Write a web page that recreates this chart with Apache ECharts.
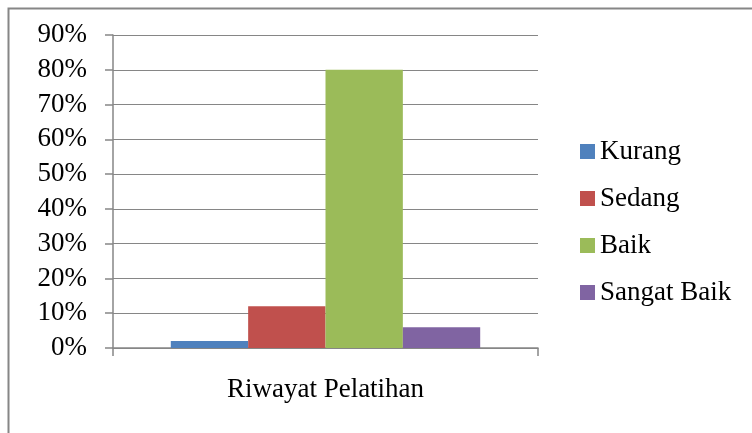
<!DOCTYPE html>
<html>
<head>
<meta charset="utf-8">
<script src="https://cdn.jsdelivr.net/npm/echarts@6/dist/echarts.min.js"></script>
<style>html,body{margin:0;padding:0;background:#fff}#c{width:752px;height:433px}</style>
</head>
<body>
<div id="c"></div>
<script>
var categories = ['Riwayat Pelatihan'];
var seriesNames = ['Kurang', 'Sedang', 'Baik', 'Sangat Baik'];
var kurang = [2];
var sedang = [12];
var baik = [80];
var sangatBaik = [6];
var colors = ['#4F81BD', '#C0504D', '#9BBB59', '#8064A2'];
var values = [kurang, sedang, baik, sangatBaik];
var font = '"Liberation Serif", "Times New Roman", serif';

var chart = echarts.init(document.getElementById('c'), null, {renderer: 'canvas'});
chart.setOption({
  animation: false,
  backgroundColor: '#fff',
  textStyle: {fontFamily: font},
  graphic: [{
    type: 'rect', left: 6, top: 6, silent: true,
    shape: {width: 800, height: 500},
    style: {fill: 'none', stroke: '#868686', lineWidth: 2}
  }],
  grid: {left: 113, right: 214, top: 35, bottom: 85, containLabel: false},
  legend: {
    orient: 'vertical', left: 575, top: 133,
    icon: 'rect', itemWidth: 15, itemHeight: 15, itemGap: 20,
    textStyle: {fontFamily: font, fontSize: 27, color: '#000', lineHeight: 26, padding: [0,0,0,0]},
    data: seriesNames
  },
  xAxis: {
    type: 'category', data: categories,
    axisLine: {lineStyle: {color: '#868686', width: 1.5}},
    axisTick: {show: true, length: 8, lineStyle: {color: '#868686', width: 1.5}},
    axisLabel: {fontFamily: font, fontSize: 27, color: '#000', margin: 28}
  },
  yAxis: {
    type: 'value', min: 0, max: 90, interval: 10,
    axisLine: {show: true, lineStyle: {color: '#868686', width: 1.5}},
    axisTick: {show: true, length: 8, lineStyle: {color: '#868686', width: 1.5}},
    axisLabel: {fontFamily: font, fontSize: 27, color: '#000', margin: 26, formatter: '{value}%'},
    splitLine: {lineStyle: {color: '#868686', width: 1.2}}
  },
  series: seriesNames.map(function (n, i) {
    return {
      name: n, type: 'bar', data: values[i],
      itemStyle: {color: colors[i]},
      barGap: '0%', barCategoryGap: '27.2%'
    };
  })
});
</script>
</body>
</html>
